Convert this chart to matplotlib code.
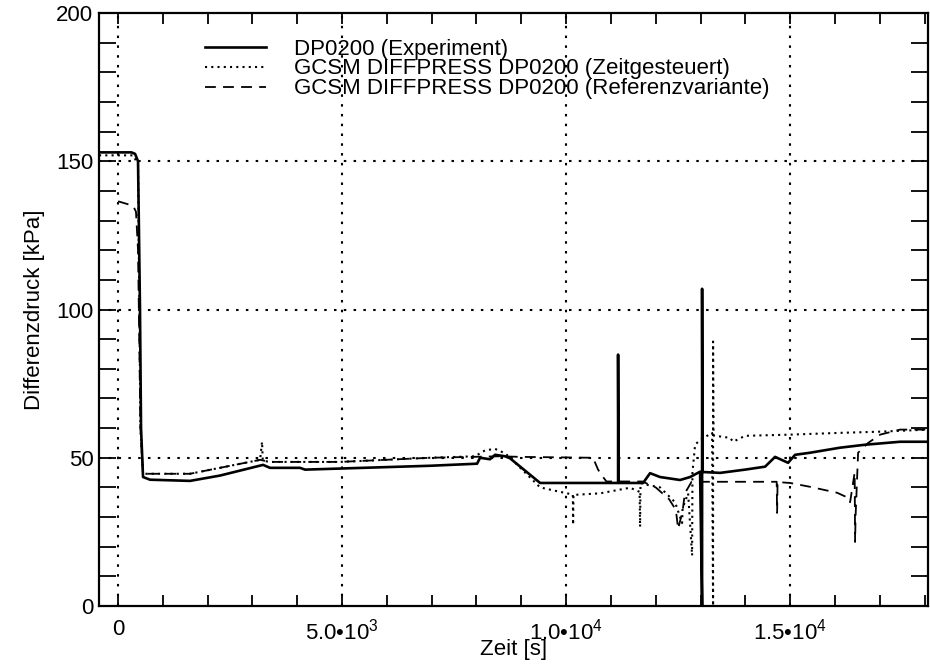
import numpy as np
import matplotlib
matplotlib.use("Agg")
from matplotlib import pyplot as plt
from matplotlib.ticker import MultipleLocator, FixedLocator, FixedFormatter

plt.rcParams['font.family'] = ['Liberation Sans', 'DejaVu Sans']
plt.rcParams['mathtext.fontset'] = 'custom'
plt.rcParams['mathtext.rm'] = 'Liberation Sans'
plt.rcParams['mathtext.it'] = 'Liberation Sans:italic'

# DP0200 (Experiment)
exp_t = [-424, 300, 380, 446, 490, 513, 558, 714, 1607, 2277, 3236, 3393, 4062, 4174,
         6964, 8013, 8080, 8300, 8415, 8638, 8750, 9420, 9865, 10758,
         11160, 11160, 11170, 11718, 11874, 12098, 12544, 12767, 12990,
         13035, 13035, 13045, 13437, 13995, 14441, 14664, 14954, 15111,
         15446, 16115, 16674, 17455, 18080]
exp_p = [153, 153, 152.5, 150, 100, 60, 43.5, 42.6, 42.2, 44.0, 47.6, 46.6, 46.6, 46.0,
         47.3, 48.0, 50.0, 49.5, 51.0, 50.5, 49.8, 41.5, 41.5, 41.5,
         41.5, 84.8, 41.5, 41.5, 44.8, 43.5, 42.5, 43.5, 45.3,
         0.0, 107.0, 45.2, 44.9, 46.0, 47.0, 50.3, 48.3, 51.0,
         51.7, 53.4, 54.4, 55.4, 55.4]

# GCSM DIFFPRESS DP0200 (Zeitgesteuert)
zeit_t = [-424, 335, 446, 500, 558, 1607, 3170, 3214, 3230, 3393, 4955, 6964,
          7968, 8191, 8415, 8638, 8750, 9085, 9420, 9865, 10150, 10156, 10165,
          10200, 10758, 11428, 11640, 11651, 11660, 11763, 12098, 12432,
          12589, 12600, 12723, 12812, 12820, 12879, 12990, 13258, 13280, 13280,
          13290, 13660, 13727, 13995, 15000, 16115, 17008, 18080]
zeit_p = [152, 152, 149, 60, 44.6, 44.6, 49.3, 55.4, 49.0, 48.6, 48.6, 50.0,
          50.5, 52.5, 53.0, 51.5, 50.0, 45.0, 40.0, 38.5, 37.6, 27.4, 37.5,
          37.5, 38.0, 39.9, 38.5, 26.7, 41.5, 41.0, 40.0, 35.0,
          28.0, 33.0, 38.0, 17.0, 45.0, 54.4, 56.0, 58.4, 0.0, 89.2,
          57.5, 56.7, 55.4, 57.4, 57.8, 58.4, 58.8, 59.5]

# GCSM DIFFPRESS DP0200 (Referenzvariante)
ref_t = [0, 335, 400, 446, 500, 558, 1607, 3170, 3393, 4955, 6964, 8527, 8973,
         10600, 10714, 10800, 10900, 11700, 12000, 12300, 12450, 12500, 12600,
         12650, 12800, 14700, 14709, 14720, 15000, 15446, 16048, 16294,
         16338, 16440, 16450, 16460, 16517, 16740, 17008, 17455, 18080]
ref_p = [136.5, 135, 133, 120, 60, 44.6, 44.6, 49.3, 48.6, 48.6, 50.0, 50.5, 50.3,
         50.0, 46.0, 44.0, 42.0, 42.0, 40.0, 36.0, 32.4, 26.0, 32.0,
         38.0, 41.9, 41.9, 31.4, 41.8, 41.5, 40.2, 38.2, 36.5,
         35.0, 45.0, 21.6, 30.0, 51.7, 55.0, 57.8, 59.5, 59.5]

legend_labels = ['DP0200 (Experiment)',
                 'GCSM DIFFPRESS DP0200 (Zeitgesteuert)',
                 'GCSM DIFFPRESS DP0200 (Referenzvariante)']

x_major = [0, 5000, 10000, 15000]
x_major_labels = ['0', '5.0•10$^{3}$', '1.0•10$^{4}$', '1.5•10$^{4}$']

fig = plt.figure(figsize=(9.3, 6.68), dpi=100)
ax = fig.add_axes([0.1065, 0.0928, 0.8915, 0.8877])

ax.plot(exp_t, exp_p, color='black', lw=1.9, linestyle='-', label=legend_labels[0])
ax.plot(zeit_t, zeit_p, color='black', lw=1.5, linestyle=(0, (1, 2)), label=legend_labels[1])
ax.plot(ref_t, ref_p, color='black', lw=1.3, linestyle=(0, (6, 4)), label=legend_labels[2])

ax.set_xlim(-424, 18080)
ax.set_ylim(0, 200)

for xv in x_major:
    ax.axvline(xv, color='black', lw=1.5, linestyle=(0, (1.2, 3.5)), zorder=0)
for yv in [50, 100, 150]:
    ax.axhline(yv, color='black', lw=1.5, linestyle=(0, (1.2, 3.5)), zorder=0)

ax.xaxis.set_major_locator(FixedLocator(x_major))
ax.xaxis.set_major_formatter(FixedFormatter(x_major_labels))
ax.xaxis.set_minor_locator(MultipleLocator(1000))
ax.yaxis.set_major_locator(MultipleLocator(50))
ax.yaxis.set_minor_locator(MultipleLocator(10))

ax.tick_params(axis='both', which='both', direction='in', top=True, right=True,
               labelsize=16, width=1.3)
ax.tick_params(axis='x', which='both', length=8, pad=9)
ax.tick_params(axis='y', which='both', length=12, pad=4)

for s in ax.spines.values():
    s.set_linewidth(1.6)

ax.set_xlabel('Zeit [s]', fontsize=16, labelpad=-4)
ax.set_ylabel('Differenzdruck [kPa]', fontsize=16, labelpad=8)

ax.legend(loc='upper left', bbox_to_anchor=(0.128, 0.957), frameon=False,
          fontsize=16, handlelength=2.75, handletextpad=1.25, labelspacing=-0.05,
          borderpad=0, borderaxespad=0)

fig.savefig('out.png', dpi=100)
